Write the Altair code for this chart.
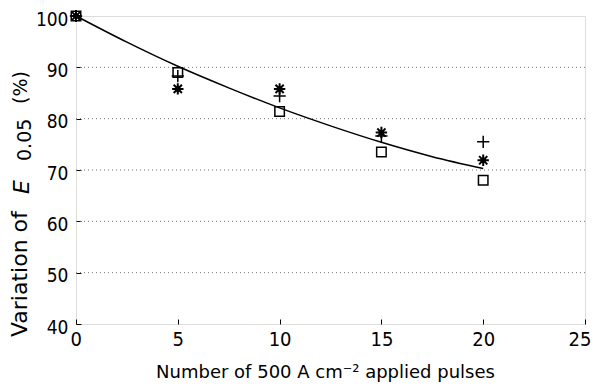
import altair as alt
import pandas as pd

# ---- data ----
pulses = [0, 5, 10, 15, 20]
square_vals = [100, 89.0, 81.4, 73.5, 68.0]
plus_vals = [100, 88.3, 84.4, 76.6, 75.5]
star_vals = [100, 85.8, 85.8, 77.3, 71.9]

curve_x = [0, 2.5, 5, 7.5, 10, 12.5, 15, 17.5, 20]
curve_y = [100, 94.9, 90.2, 86.0, 82.1, 78.6, 75.4, 72.6, 70.3]

x_ticks = [0, 5, 10, 15, 20, 25]
y_ticks = [40, 50, 60, 70, 80, 90, 100]
grid_vals = [50, 60, 70, 80, 90]

FONT = "DejaVu Sans Condensed"
TFONT = "DejaVu Sans"

pts = pd.DataFrame({"x": pulses, "sq": square_vals, "pl": plus_vals, "st": star_vals})
curve = pd.DataFrame({"x": curve_x, "y": curve_y})
grid = pd.DataFrame({"y": grid_vals})

xscale = alt.Scale(domain=[0, 25], nice=False)
yscale = alt.Scale(domain=[40, 100], nice=False)

xaxis = alt.Axis(
    values=x_ticks, title="Number of 500 A cm⁻² applied pulses",
    grid=False, domain=False, offset=-5, tickSize=5, tickColor="black",
    labelFont=FONT, labelFontSize=20, labelColor="black", labelPadding=5,
    labelFlush=True, labelFlushOffset=6,
    titleFont=TFONT, titleFontSize=18, titleFontWeight="normal", titleColor="black",
    titleY=58, titleBaseline="alphabetic", titleX=249,
)
yaxis = alt.Axis(
    values=y_ticks, title=None,
    grid=False, domain=False, offset=-5, tickSize=5, tickColor="black",
    labelFont=FONT, labelFontSize=19, labelColor="black", labelPadding=8, labelOffset=3,
)

base = alt.Chart(pts)

gridlines = alt.Chart(grid).mark_rule(color="#777", strokeWidth=1, strokeDash=[1, 3]).encode(
    y=alt.Y("y:Q", scale=yscale, axis=yaxis)
)

line = alt.Chart(curve).mark_line(color="black", strokeWidth=1.5, interpolate="monotone").encode(
    x=alt.X("x:Q", scale=xscale, axis=xaxis),
    y=alt.Y("y:Q", scale=yscale, axis=yaxis),
)

squares = base.mark_point(shape="square", filled=False, size=90, color="black", strokeWidth=1.5, opacity=1).encode(
    x=alt.X("x:Q", scale=xscale), y=alt.Y("sq:Q", scale=yscale)
)
plus = base.mark_point(shape="M-1,0L1,0M0,-1L0,1", filled=False, size=150, color="black", strokeWidth=1.5, opacity=1).encode(
    x=alt.X("x:Q", scale=xscale), y=alt.Y("pl:Q", scale=yscale)
)
star = base.mark_point(
    shape="M-1,0L1,0M0,-1L0,1M-0.72,-0.72L0.72,0.72M-0.72,0.72L0.72,-0.72",
    filled=False, size=130, color="black", strokeWidth=2, opacity=1,
).encode(x=alt.X("x:Q", scale=xscale), y=alt.Y("st:Q", scale=yscale))
star_core = base.mark_point(shape="circle", filled=True, size=30, color="black", opacity=1).encode(
    x=alt.X("x:Q", scale=xscale), y=alt.Y("st:Q", scale=yscale)
)

# ---- y-axis title built from pieces (subscript) ----
one = pd.DataFrame({"k": [0]})


def title_piece(txt, xpos, ypos, size, style="normal"):
    return alt.Chart(one).mark_text(
        text=txt, angle=270, align="left", baseline="alphabetic",
        font=TFONT, fontSize=size, fontStyle=style, color="black",
    ).encode(x=alt.value(xpos), y=alt.value(ypos))


ytitle = alt.layer(
    title_piece("Variation of", -49, 321, 22),
    title_piece("E", -47, 178, 22, "italic"),
    title_piece("0.05", -45, 145, 19),
    title_piece("(%)", -49, 88, 19),
)

chart = alt.layer(gridlines, line, squares, plus, star, star_core, ytitle).properties(
    width=509, height=308,
    autosize=alt.AutoSizeParams(type="none"),
    padding={"left": 68, "top": 8, "right": 6, "bottom": 59},
).configure_view(stroke="black", strokeWidth=1.2).configure(background="white")

chart.save("out.html", embed_options={"renderer": "svg", "actions": False})
